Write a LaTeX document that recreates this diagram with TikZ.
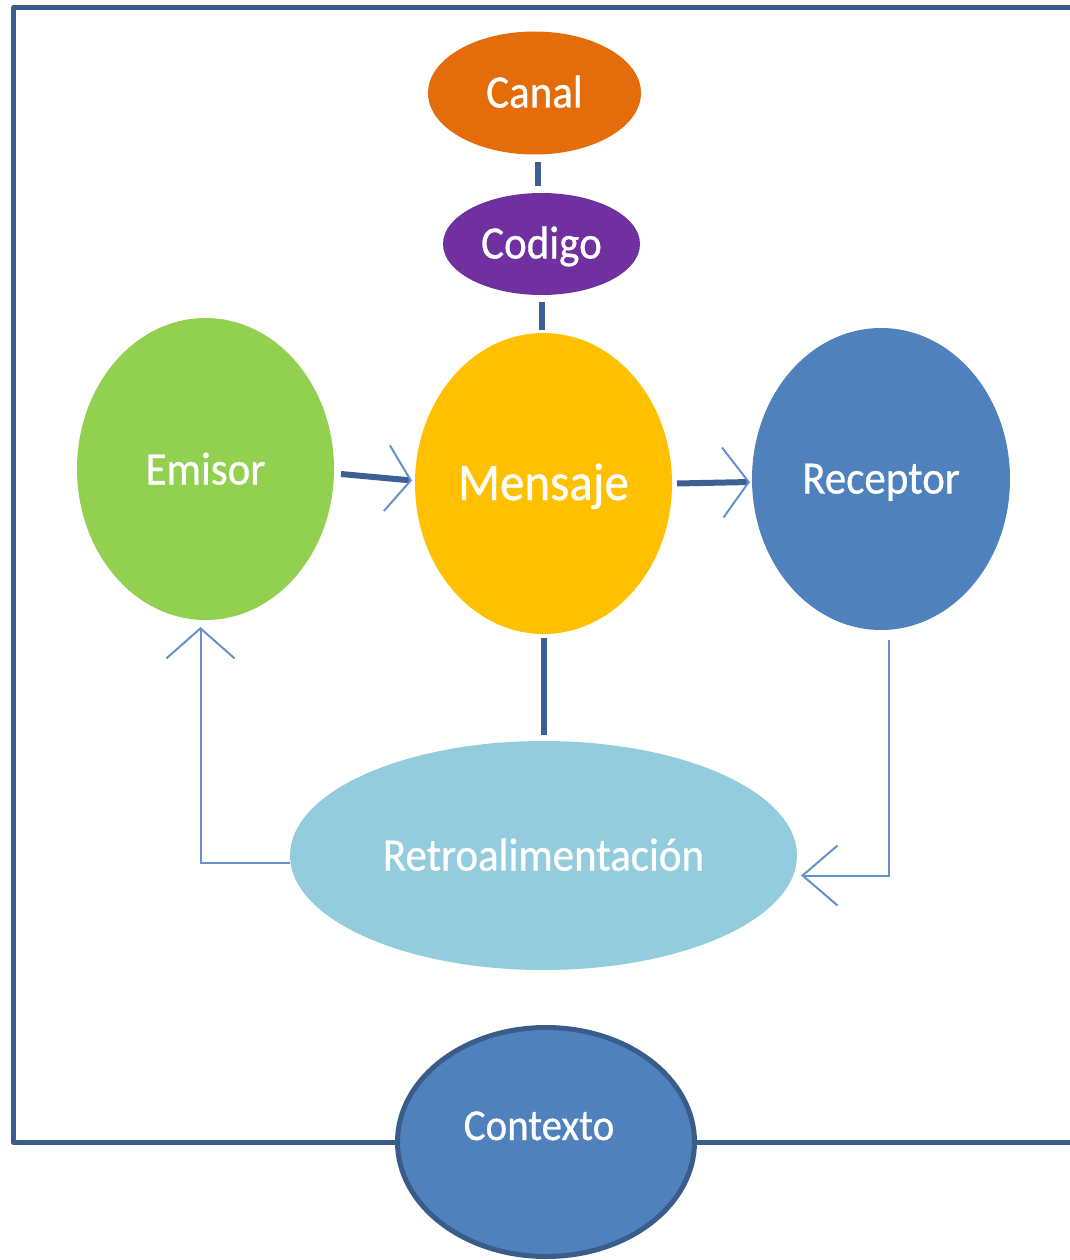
\documentclass[tikz,border=0pt]{standalone}
\usepackage{fontspec}
\setmainfont{Carlito}
\newfontface\bubblefont{Carlito}[FakeBold=0.7]
\usepackage{graphicx}
\usetikzlibrary{shapes.geometric,arrows.meta}
\definecolor{canalc}{HTML}{E46C0A}
\definecolor{codigoc}{HTML}{7030A0}
\definecolor{emisorc}{HTML}{92D050}
\definecolor{mensajec}{HTML}{FFC000}
\definecolor{receptorc}{HTML}{4F81BD}
\definecolor{retroc}{HTML}{93CDDD}
\definecolor{contextoc}{HTML}{4F81BD}
\definecolor{darkblue}{HTML}{385D8A}
\definecolor{linkblue}{HTML}{3C6094}
\definecolor{thinblue}{HTML}{6690CF}
\newcommand{\tallt}[1]{\scalebox{1}[1.08]{#1}}
\tikzset{
  bubble/.style={ellipse, inner sep=0pt, outer sep=0pt, text=white,
    font=\bubblefont\fontsize{43}{50}\selectfont, text height=29pt, text depth=0pt},
  framebox/.style={draw=darkblue, line width=5pt, line join=round},
  thicklink/.style={draw=linkblue, line width=6pt},
  thinlink/.style={draw=thinblue, line width=2pt},
  barb/.style={-{Straight Barb[length=#1, line width=2pt, color=thinblue]}},
}
\begin{document}
\begin{tikzpicture}[x=1pt, y=-1pt]
  \clip (0,0) rectangle (1070,1260);
  \fill[white] (0,0) rectangle (1070,1260);
  % frame
  \draw[framebox] (1080,8) -- (13,8) -- (13,1142) -- (1080,1142);
  % nodes
  \node[bubble, fill=canalc, minimum width=213pt, minimum height=123pt] (canal) at (534.5,93) {\tallt{Canal}};
  \node[bubble, fill=codigoc, minimum width=197pt, minimum height=102pt] (codigo) at (541.5,244) {\tallt{Codigo}};
  \node[bubble, fill=emisorc, minimum width=257pt, minimum height=302pt, text height=31pt] (emisor) at (205.5,469) {\tallt{Emisor}};
  \node[bubble, fill=mensajec, minimum width=257pt, minimum height=301pt,
        font=\bubblefont\fontsize{49}{56}\selectfont, text height=33pt] (mensaje) at (543.5,483.5) {\tallt{Mensaje}};
  \node[bubble, fill=receptorc, minimum width=258pt, minimum height=302pt] (receptor) at (881,479) {\tallt{Receptor}};
  \node[bubble, fill=retroc, minimum width=507pt, minimum height=229pt, text height=30pt] (retro) at (543.5,855.5) {\tallt{Retroalimentación}};
  \node[bubble, fill=contextoc, draw=darkblue, line width=5pt, minimum width=297pt, minimum height=229pt,
        font=\bubblefont\fontsize{41}{48}\selectfont, text height=28pt, text depth=32pt] (contexto) at (546,1142) {\tallt{Contexto}\hspace*{14pt}};
  % vertical links
  \coordinate (cx) at (537.5,0);
  \draw[thicklink, shorten <=8pt, shorten >=7pt] (canal.south -| cx) -- (codigo.north -| cx);
  \draw[thicklink, shorten <=7pt, shorten >=3pt] (codigo.south) -- (codigo.south |- mensaje.north);
  \draw[thicklink, shorten <=4pt, shorten >=6pt] (mensaje.south) -- (mensaje.south |- retro.north);
  % arrows
  \draw[thicklink, barb={24pt, width=66pt}] ([shift={(7,5)}]emisor.east) -- ([shift={(-3,-3)}]mensaje.west);
  \draw[thicklink, barb={26pt, width=70pt}] ([shift={(5,0)}]mensaje.east) -- ([shift={(-2,3)}]receptor.west);
  \draw[thinlink, barb={35pt, width=60pt}] ([shift={(8,10)}]receptor.south) |- ([shift={(4,20)}]retro.east);
  \draw[thinlink, barb={30pt, width=68pt}] ([shift={(0,7)}]retro.west) -| ([shift={(-5,7)}]emisor.south);
\end{tikzpicture}
\end{document}
